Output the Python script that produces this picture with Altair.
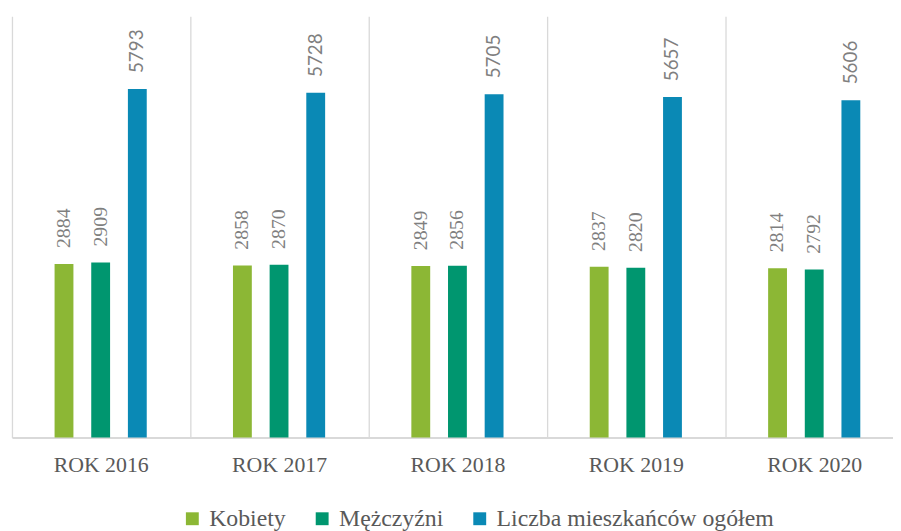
import altair as alt
import pandas as pd

years = ["ROK 2016", "ROK 2017", "ROK 2018", "ROK 2019", "ROK 2020"]
series = ["Kobiety", "Mężczyźni", "Liczba mieszkańców ogółem"]
kobiety = [2884, 2858, 2849, 2837, 2814]
mezczyzni = [2909, 2870, 2856, 2820, 2792]
ogolem = [5793, 5728, 5705, 5657, 5606]
colors = ["#8CB735", "#00966F", "#0A89B5"]

SERIF = "Liberation Serif, Times New Roman, serif"

rows = []
for i, y in enumerate(years):
    for s, vals in zip(series, [kobiety, mezczyzni, ogolem]):
        rows.append({"rok": y, "seria": s, "wartosc": vals[i]})
df = pd.DataFrame(rows)

x = alt.X("rok:N", sort=years, title=None,
          scale=alt.Scale(range=[0, 900], paddingInner=0, paddingOuter=0),
          axis=alt.Axis(bandPosition=0, grid=True, gridColor="#D9D9D9", gridWidth=1.3,
                        domainColor="#D9D9D9", domainWidth=2, ticks=False, tickSize=0,
                        labelAngle=0, labelFont=SERIF, labelFontSize=22,
                        labelColor="#595959", labelBaseline="alphabetic", labelPadding=34))
xoff = alt.XOffset("seria:N", sort=series,
                   scale=alt.Scale(range=[43, 136], paddingInner=0.486, paddingOuter=0))
y = alt.Y("wartosc:Q", scale=alt.Scale(domain=[0, 7000]), axis=None)

base = alt.Chart(df)

bars = base.mark_bar().encode(
    x=x, xOffset=xoff, y=y,
    color=alt.Color("seria:N", sort=series,
                    scale=alt.Scale(domain=series, range=colors),
                    legend=alt.Legend(title=None, orient="none", direction="horizontal",
                                      legendX=170, legendY=495,
                                      symbolType="square", symbolSize=169,
                                      symbolStrokeWidth=0, symbolOpacity=1,
                                      labelFont=SERIF, labelFontSize=24,
                                      labelColor="#595959", labelLimit=400,
                                      labelOffset=5, columnPadding=24)),
)

labels_serif = base.transform_filter(
    alt.datum.seria != "Liczba mieszkańców ogółem"
).mark_text(angle=270, align="left", baseline="middle", yOffset=-16,
            font=SERIF, fontSize=20, color="#7F7F7F").encode(
    x=x, xOffset=xoff, y=y, text=alt.Text("wartosc:Q", format="d"))

labels_sans = base.transform_filter(
    alt.datum.seria == "Liczba mieszkańców ogółem"
).mark_text(angle=270, align="left", baseline="middle", yOffset=-16,
            font="Lato", fontSize=19, color="#7F7F7F").encode(
    x=x, xOffset=xoff, y=y, text=alt.Text("wartosc:Q", format="d"))

chart = alt.layer(bars, labels_serif, labels_sans).properties(
    width=889, height=425,
    autosize=alt.AutoSizeParams(type="none"),
    padding={"left": 4, "top": 6, "right": 0, "bottom": 92},
).configure_view(stroke=None)

chart.save("out.html", embed_options={"renderer": "svg", "actions": False})
